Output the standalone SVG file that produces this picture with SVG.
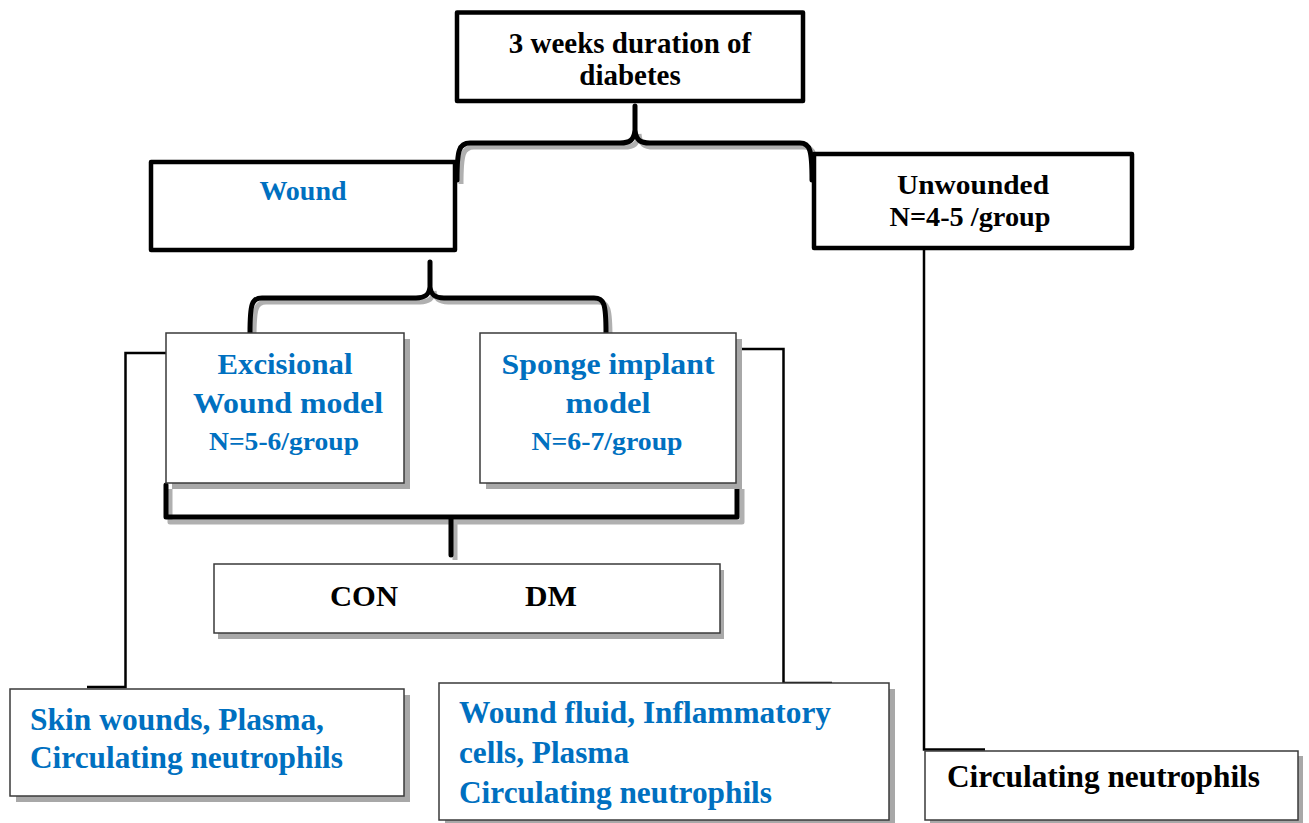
<svg xmlns="http://www.w3.org/2000/svg" width="1309" height="823" viewBox="0 0 1309 823">
<style>
.thick{fill:#fff;stroke:#000;stroke-width:4.5;stroke-linejoin:round}
.thin{fill:#fff;stroke:#3a3a3a;stroke-width:1.5}
.shadow{fill:#a8a8a8}
.brace{fill:none;stroke:#000;stroke-width:5;stroke-linecap:round;stroke-linejoin:round}
.braceSh{fill:none;stroke:#b0b0b0;stroke-width:5;stroke-linecap:butt;stroke-linejoin:round}
.conn{fill:none;stroke:#000;stroke-width:2.5}
text{font-family:"Liberation Serif","Times New Roman",serif;font-weight:bold}
.blue{fill:#0070c0}
.blk{fill:#000}
.c{text-anchor:middle}
</style>
<rect width="1309" height="823" fill="#fff"/>

<g id="connectors">
  <path class="braceSh" d="M461,184 C461,154 463,147 474,147 L624,147 C634,147 638,144 639,134 M816,184 C816,154 814,147 804,147 L654,147 C644,147 640,144 639,134"/>
  <path class="brace" d="M457,180 C457,150 459,143 470,143 L620,143 C630,143 634,140 635,130 L635,106 M812,180 C812,150 810,143 800,143 L650,143 C640,143 636,140 635,130"/>
  <path class="braceSh" d="M254,338 C254,308 256,302 266,302 L420,302 C429,302 433,299 434,291 M610,338 C610,308 608,302 598,302 L448,302 C439,302 435,299 434,291"/>
  <path class="brace" d="M250,333 C250,303 252,298 262,298 L416,298 C425,298 429,295 430,287 L430,262 M606,333 C606,303 604,298 594,298 L444,298 C435,298 431,295 430,287"/>
  <path class="braceSh" d="M170,489 V522 H742 V489 M455,522 V560"/>
  <path class="brace" d="M166,485 V517 H737 V485 M451,517 V555"/>
  <path class="conn" d="M166,353 H125.5 V687 H87"/>
  <path class="conn" d="M737,349 H783.5 V683 H832"/>
  <path class="conn" stroke-width="3" d="M924,248 V749.5 H985"/>
</g>

<g id="node-top">
  <rect class="thick" x="457" y="12.5" width="346" height="88.5"/>
  <text class="blk c" x="630" y="53" font-size="29">3 weeks duration of</text>
  <text class="blk c" x="630" y="85" font-size="29">diabetes</text>
</g>

<g id="node-wound">
  <rect class="thick" x="151" y="162" width="304" height="88"/>
  <text class="blue c" x="303" y="200" font-size="28">Wound</text>
</g>

<g id="node-unwounded">
  <rect class="thick" x="814" y="154" width="318" height="94"/>
  <text class="blk c" x="973" y="194" font-size="28" textLength="152" lengthAdjust="spacingAndGlyphs">Unwounded</text>
  <text class="blk c" x="970" y="226" font-size="28" textLength="161" lengthAdjust="spacingAndGlyphs">N=4-5 /group</text>
</g>

<g id="node-excisional">
  <rect class="shadow" x="172" y="339" width="238" height="150"/>
  <rect class="thin" x="166" y="333" width="238" height="150"/>
  <text class="blue c" x="285" y="374" font-size="30" textLength="135" lengthAdjust="spacingAndGlyphs">Excisional</text>
  <text class="blue c" x="288" y="413" font-size="30" textLength="190" lengthAdjust="spacingAndGlyphs">Wound model</text>
  <text class="blue c" x="284" y="450" font-size="26" textLength="150" lengthAdjust="spacingAndGlyphs">N=5-6/group</text>
</g>

<g id="node-sponge">
  <rect class="shadow" x="486" y="339" width="256" height="150"/>
  <rect class="thin" x="480" y="333" width="256" height="150"/>
  <text class="blue c" x="608" y="374" font-size="30" textLength="213" lengthAdjust="spacingAndGlyphs">Sponge implant</text>
  <text class="blue c" x="608" y="413" font-size="30" textLength="85" lengthAdjust="spacingAndGlyphs">model</text>
  <text class="blue c" x="607" y="450" font-size="26" textLength="151" lengthAdjust="spacingAndGlyphs">N=6-7/group</text>
</g>

<g id="node-condm">
  <rect class="shadow" x="218" y="570" width="506" height="69"/>
  <rect class="thin" x="214" y="564" width="506" height="69"/>
  <text class="blk" x="330" y="606" font-size="29" textLength="68" lengthAdjust="spacingAndGlyphs">CON</text>
  <text class="blk" x="525" y="606" font-size="29" textLength="52" lengthAdjust="spacingAndGlyphs">DM</text>
</g>

<g id="node-skin">
  <rect class="shadow" x="16" y="695" width="394" height="107"/>
  <rect class="thin" x="10" y="689" width="394" height="107"/>
  <text class="blue" x="30" y="730" font-size="31" textLength="294" lengthAdjust="spacingAndGlyphs">Skin wounds, Plasma,</text>
  <text class="blue" x="30" y="768" font-size="31" textLength="313" lengthAdjust="spacingAndGlyphs">Circulating neutrophils</text>
</g>

<g id="node-fluid">
  <rect class="shadow" x="445" y="689" width="450" height="137"/>
  <rect class="thin" x="439" y="683" width="450" height="137"/>
  <text class="blue" x="459" y="723" font-size="31" textLength="372" lengthAdjust="spacingAndGlyphs">Wound fluid, Inflammatory</text>
  <text class="blue" x="459" y="763" font-size="31" textLength="170" lengthAdjust="spacingAndGlyphs">cells, Plasma</text>
  <text class="blue" x="459" y="803" font-size="31" textLength="313" lengthAdjust="spacingAndGlyphs">Circulating neutrophils</text>
</g>

<g id="node-circ">
  <rect class="shadow" x="930" y="756" width="373" height="69"/>
  <rect class="thin" x="925" y="751" width="373" height="69"/>
  <text class="blk" x="947" y="787" font-size="31" textLength="313" lengthAdjust="spacingAndGlyphs">Circulating neutrophils</text>
</g>
</svg>
